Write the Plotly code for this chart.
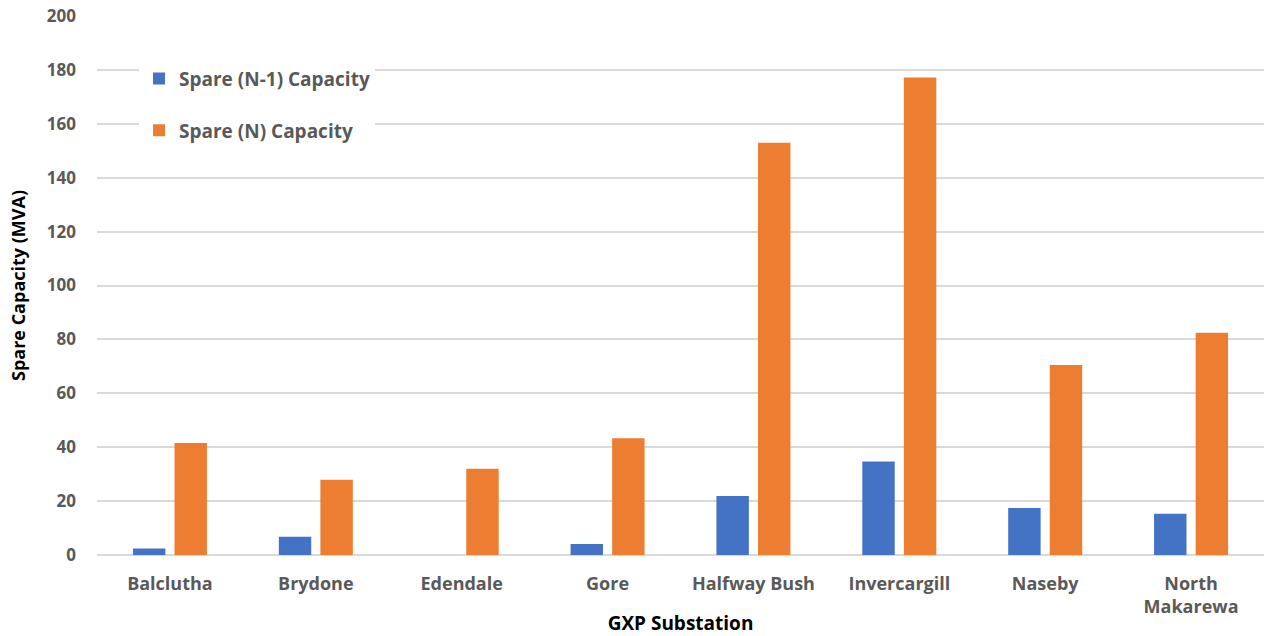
import plotly.graph_objects as go

# GXP substations and spare capacity (MVA)
substations = ["Balclutha", "Brydone", "Edendale", "Gore", "Halfway Bush",
               "Invercargill", "Naseby", "North<br>Makarewa"]
spare_n1 = [2.4, 6.8, 0, 4.1, 21.9, 34.7, 17.4, 15.3]
spare_n = [41.6, 27.9, 32.0, 43.3, 153.0, 177.2, 70.5, 82.5]
y_ticks = [0, 20, 40, 60, 80, 100, 120, 140, 160, 180, 200]

BLUE = "#4472C4"
ORANGE = "#ED7D31"
GRID = "#d9d9d9"
TICK_COLOR = "#595959"
FONT = "Open Sans, Liberation Sans, sans-serif"

fig = go.Figure()
fig.add_trace(go.Bar(x=substations, y=spare_n1, name="Spare (N-1) Capacity",
                     marker=dict(color=BLUE, line=dict(width=0)),
                     legendgroup="a"))
fig.add_trace(go.Bar(x=substations, y=spare_n, name="Spare (N) Capacity",
                     marker=dict(color=ORANGE, line=dict(width=0)),
                     legendgroup="b"))

fig.update_layout(
    width=1274, height=636,
    margin=dict(l=97, r=10, t=16, b=81),
    paper_bgcolor="white", plot_bgcolor="white",
    barmode="group", bargap=0.43, bargroupgap=0.22,
    font=dict(family=FONT, color=TICK_COLOR),
    legend=dict(
        x=0.036, y=0.919, xanchor="left", yanchor="top",
        bgcolor="white", borderwidth=0,
        font=dict(size=19, color=TICK_COLOR, family=FONT, weight="bold"),
        tracegroupgap=24, itemwidth=30,
    ),
    xaxis=dict(
        automargin=False,
        showgrid=False, showline=False, ticks="", ticklabelstandoff=16,
        tickfont=dict(size=18, color=TICK_COLOR, family=FONT, weight="bold"),
        title=dict(text="GXP Substation", standoff=16,
                   font=dict(size=19, color="black", family=FONT, weight="bold")),
    ),
    yaxis=dict(
        automargin=False,
        range=[0, 200], tickvals=y_ticks,
        showgrid=True, gridcolor=GRID, gridwidth=1.5,
        zeroline=True, zerolinecolor=GRID, zerolinewidth=1.5,
        showline=False, ticks="", ticklabelstandoff=20,
        tickfont=dict(size=17, color=TICK_COLOR, family=FONT, weight="bold"),
        title=dict(text="Spare Capacity (MVA)", standoff=16,
                   font=dict(size=18, color="black", family=FONT, weight="bold")),
    ),
)

fig.write_html("out.html")
